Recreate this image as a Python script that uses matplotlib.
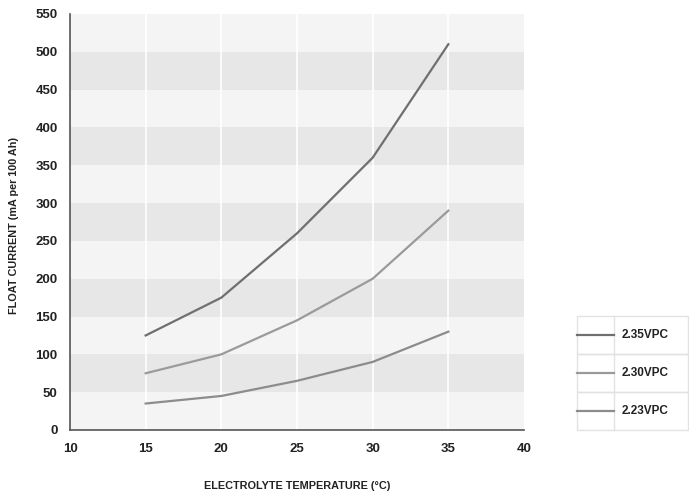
import matplotlib
matplotlib.use('Agg')
import matplotlib.pyplot as plt

plt.rcParams['font.family'] = ['Liberation Sans', 'DejaVu Sans']

# Data
temps = [15, 20, 25, 30, 35]
v235 = [125, 175, 260, 360, 510]
v230 = [75, 100, 145, 200, 290]
v223 = [35, 45, 65, 90, 130]
series_labels = ['2.35VPC', '2.30VPC', '2.23VPC']
x_ticks = [10, 15, 20, 25, 30, 35, 40]
y_ticks = list(range(0, 551, 50))

colors = ['#6f6f6f', '#9a9a9a', '#8c8c8c']
txt = '#222222'

fig = plt.figure(figsize=(6.89, 4.96), dpi=100)
ax = fig.add_axes([70 / 689, 1 - 430 / 496, 454 / 689, 416 / 496])

ax.set_facecolor('#f4f4f4')
for lo in range(50, 550, 100):
    ax.axhspan(lo, lo + 50, color='#e7e7e7', lw=0, zorder=0)
for xv in x_ticks[1:-1]:
    ax.axvline(xv, color='white', lw=1.2, zorder=1)

for vals, c in zip([v235, v230, v223], colors):
    ax.plot(temps, vals, color=c, lw=1.6, zorder=3)

ax.set_xlim(10, 40)
ax.set_ylim(0, 550)
ax.set_xticks(x_ticks)
ax.set_yticks(y_ticks)
ax.tick_params(length=0, labelsize=9.5, colors=txt, pad=9)
ax.tick_params(axis='x', pad=9)
for lab in ax.get_xticklabels() + ax.get_yticklabels():
    lab.set_fontweight('bold')
for s in ['top', 'right']:
    ax.spines[s].set_visible(False)
for s in ['left', 'bottom']:
    ax.spines[s].set_color('#555555')
    ax.spines[s].set_linewidth(1.2)

fig.text(297 / 689, 1 - 486 / 496, 'ELECTROLYTE TEMPERATURE (°C)', fontsize=7.8,
         fontweight='bold', color=txt, ha='center', va='center')
fig.text(14 / 689, 1 - 225 / 496, 'FLOAT CURRENT (mA per 100 Ah)', fontsize=7.8,
         fontweight='bold', color=txt, ha='center', va='center', rotation=90)

# Legend table
lx0, lx1, lx2 = 577 / 689, 614 / 689, 688 / 689
ly_top, row_h = 1 - 316 / 496, 38 / 496
for i, (lab, c) in enumerate(zip(series_labels, colors)):
    y1 = ly_top - i * row_h
    y0 = y1 - row_h
    fig.add_artist(plt.Rectangle((lx0, y0), lx2 - lx0, row_h, transform=fig.transFigure,
                                 fill=False, ec='#e2e2e2', lw=1))
    fig.add_artist(plt.Line2D([lx1, lx1], [y0, y1], transform=fig.transFigure,
                              color='#e2e2e2', lw=1))
    ym = (y0 + y1) / 2
    fig.add_artist(plt.Line2D([lx0, lx1], [ym, ym], transform=fig.transFigure,
                              color=c, lw=1.6))
    fig.text(622 / 689, ym, lab, fontsize=8.5, fontweight='bold', color=txt,
             va='center', ha='left')

fig.savefig('out.png', dpi=100)
